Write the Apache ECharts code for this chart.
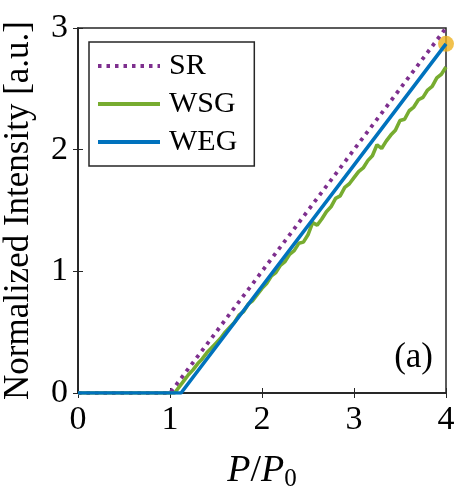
<!DOCTYPE html>
<html>
<head>
<meta charset="utf-8">
<script src="https://cdn.jsdelivr.net/npm/echarts@6/dist/echarts.min.js"></script>
<style>
    html, body { margin: 0; padding: 0; background: #fff; }
    #main { width: 455px; height: 488px; }
</style>
</head>
<body>
<div id="main"></div>
<script>
// 数据
var seriesNames = ['SR', 'WSG', 'WEG'];
var xTicks = [0, 1, 2, 3, 4];
var yTicks = [0, 1, 2, 3];

var srData = [[0, 0], [1, 0], [4, 3]];
var wegData = [[0, 0], [1.12, 0], [4, 2.87]];
var wsgData = [
    [0, 0], [1.05, 0], [1.10, 0.05], [1.15, 0.10], [1.20, 0.15], [1.25, 0.19], [1.30, 0.24],
    [1.35, 0.28], [1.40, 0.33], [1.45, 0.37], [1.50, 0.41], [1.55, 0.45], [1.60, 0.50],
    [1.65, 0.54], [1.70, 0.58], [1.75, 0.64], [1.80, 0.67], [1.85, 0.73], [1.90, 0.76],
    [1.95, 0.81], [2.00, 0.86], [2.05, 0.90], [2.10, 0.96], [2.15, 0.99], [2.20, 1.05],
    [2.25, 1.08], [2.30, 1.14], [2.35, 1.17], [2.40, 1.23], [2.45, 1.24], [2.50, 1.30],
    [2.55, 1.40], [2.60, 1.38], [2.65, 1.43], [2.70, 1.49], [2.75, 1.53], [2.80, 1.60],
    [2.85, 1.62], [2.90, 1.69], [2.95, 1.72], [3.00, 1.77], [3.05, 1.82], [3.10, 1.85],
    [3.15, 1.91], [3.20, 1.95], [3.25, 2.04], [3.30, 2.01], [3.35, 2.07], [3.40, 2.12],
    [3.45, 2.16], [3.50, 2.24], [3.55, 2.25], [3.60, 2.32], [3.65, 2.35], [3.70, 2.41],
    [3.75, 2.43], [3.80, 2.49], [3.85, 2.52], [3.90, 2.59], [3.95, 2.62], [4.00, 2.68]
];
var markerPoint = [[4, 2.87]];

var serif = 'Liberation Serif';
var frameColor = '#262626';

var myChart = echarts.init(document.getElementById('main'));

var option = {
    backgroundColor: '#fff',
    animation: false,
    grid: {
        left: 78, right: 9, top: 28, bottom: 95,
        outerBoundsMode: 'none',
        show: true, borderColor: frameColor, borderWidth: 1.5
    },
    legend: {
        data: seriesNames,
        orient: 'vertical',
        left: 89, top: 42,
        padding: [9, 17, 9, 7],
        itemGap: 8,
        itemWidth: 62,
        itemHeight: 14,
        itemStyle: { opacity: 0 },
        lineStyle: { width: 4 },
        backgroundColor: '#fff',
        borderColor: frameColor,
        borderWidth: 1.5,
        borderRadius: 0,
        textStyle: { fontFamily: serif, fontSize: 30, color: '#000', padding: [0, 0, 0, 4] }
    },
    xAxis: [{
        type: 'value', min: 0, max: 4, interval: 1,
        axisLine: { show: true, lineStyle: { color: frameColor, width: 1.5 } },
        axisTick: { show: true, inside: true, length: 5, lineStyle: { color: frameColor } },
        splitLine: { show: false },
        axisLabel: { fontFamily: serif, fontSize: 34, color: '#000', margin: 10 },
        name: '{i|P}{n|/}{i|P}{s|0}',
        nameLocation: 'middle',
        nameGap: 58,
        nameTextStyle: {
            rich: {
                i: { fontFamily: serif, fontStyle: 'italic', fontSize: 38, color: '#000' },
                n: { fontFamily: serif, fontSize: 38, color: '#000' },
                s: { fontFamily: serif, fontSize: 25, color: '#000', verticalAlign: 'bottom', padding: [16, 0, 0, 0] }
            }
        }
    }, {
        type: 'value', min: 0, max: 4, interval: 1, position: 'top',
        axisLine: { show: true, lineStyle: { color: frameColor, width: 1.5 } },
        axisTick: { show: true, inside: true, length: 5, lineStyle: { color: frameColor } },
        axisLabel: { show: false },
        splitLine: { show: false }
    }],
    yAxis: [{
        type: 'value', min: 0, max: 3, interval: 1,
        axisLine: { show: true, lineStyle: { color: frameColor, width: 1.5 } },
        axisTick: { show: true, inside: true, length: 5, lineStyle: { color: frameColor } },
        splitLine: { show: false },
        axisLabel: { fontFamily: serif, fontSize: 34, color: '#000', margin: 10 },
        name: 'Normalized Intensity [a.u.]',
        nameLocation: 'middle',
        nameGap: 42,
        nameTextStyle: { fontFamily: serif, fontSize: 35, color: '#000' }
    }, {
        type: 'value', min: 0, max: 3, interval: 1, position: 'right',
        axisLine: { show: true, lineStyle: { color: frameColor, width: 1.5 } },
        axisTick: { show: true, inside: true, length: 5, lineStyle: { color: frameColor } },
        axisLabel: { show: false },
        splitLine: { show: false }
    }],
    graphic: [{
        type: 'text', right: 22, top: 340,
        style: { text: '(a)', font: '35px "Liberation Serif"', fill: '#000' }
    }],
    series: [{
        name: 'SR', type: 'line', data: srData, symbol: 'none',
        color: '#7E2F8E',
        lineStyle: { color: '#7E2F8E', width: 3.8, type: [3.5, 5] }
    }, {
        name: 'WSG', type: 'line', data: wsgData, symbol: 'none',
        color: '#77AC30',
        lineStyle: { color: '#77AC30', width: 3.6 }
    }, {
        name: 'WEG', type: 'line', data: wegData, symbol: 'none',
        color: '#0072BD',
        lineStyle: { color: '#0072BD', width: 3.6 }
    }, {
        name: 'point', type: 'scatter', data: markerPoint, clip: false,
        symbolSize: 16, itemStyle: { color: '#EDB120' }
    }]
};

myChart.setOption(option);
</script>
</body>
</html>
